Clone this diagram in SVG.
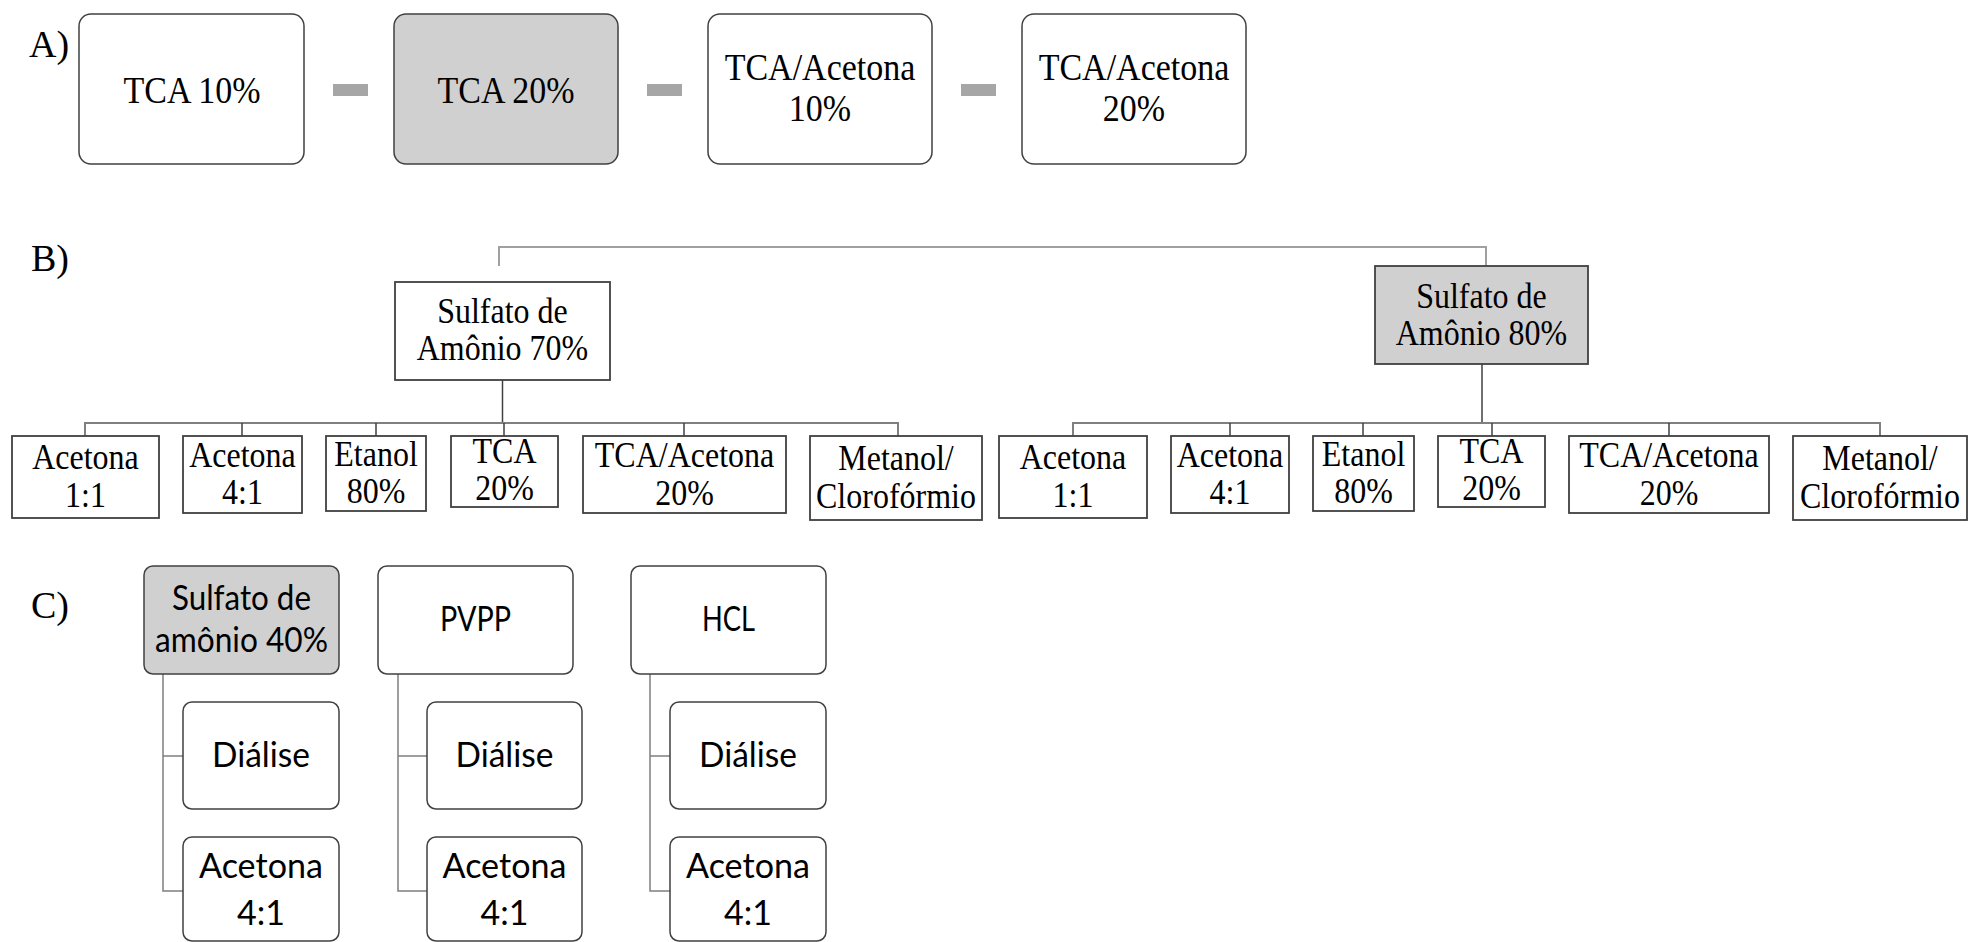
<svg xmlns="http://www.w3.org/2000/svg" width="1969" height="942" viewBox="0 0 1969 942">
<style>
.bg{fill:#ffffff}
.ra{fill:#ffffff;stroke:#404040;stroke-width:1.5}
.rag{fill:#d0d0d0;stroke:#404040;stroke-width:1.5}
.rb{fill:#ffffff;stroke:#404040;stroke-width:1.8}
.rbg{fill:#d0d0d0;stroke:#404040;stroke-width:1.8}
.dash{fill:#a6a6a6}
.lbl{font-family:"Liberation Serif","Times New Roman",serif;font-size:38px;fill:#000}
.ta{font-family:"Liberation Serif","Times New Roman",serif;font-size:34px;fill:#000;text-anchor:middle}
.tb{font-family:"Liberation Serif","Times New Roman",serif;font-size:32px;fill:#000;text-anchor:middle}
.tc{font-family:Lato,"Open Sans",sans-serif;font-size:34px;fill:#000;text-anchor:middle}
.ltop{fill:none;stroke:#a0a0a0;stroke-width:2}
.lbus{fill:none;stroke:#808080;stroke-width:2}
.ldark{fill:none;stroke:#404040;stroke-width:1.5}
.lc{fill:none;stroke:#7f7f7f;stroke-width:1.5}
</style>
<rect class="bg" x="0" y="0" width="1969" height="942"/>

<!-- Labels -->
<text class="lbl" x="29" y="57">A)</text>
<text class="lbl" x="31" y="271">B)</text>
<text class="lbl" x="31" y="618">C)</text>

<!-- Connectors -->
<g id="connectors">
  <rect class="dash" x="333" y="84" width="35" height="12"/>
  <rect class="dash" x="647" y="84" width="35" height="12"/>
  <rect class="dash" x="961" y="84" width="35" height="12"/>
  <path class="ltop" d="M499,266 V247 H1486 V266"/>
  <path class="ldark" d="M502.5,380 V423"/>
  <path class="lbus" d="M85,436 V423 H898 V436"/>
  <path class="ldark" d="M242,423 V436 M376,423 V436 M504,423 V436 M684,423 V436"/>
  <path class="ldark" d="M1482,364 V423"/>
  <path class="lbus" d="M1073,436 V423 H1880 V436"/>
  <path class="ldark" d="M1230,423 V436 M1363,423 V436 M1492,423 V436 M1669,423 V436"/>
  <path class="lc" d="M163,674 V891 H183 M163,756 H183"/>
  <path class="lc" d="M398,674 V891 H427 M398,756 H427"/>
  <path class="lc" d="M650,674 V891 H670 M650,756 H670"/>
</g>

<!-- Section A nodes -->
<g id="a-tca10">
  <rect class="ra" x="79" y="14" width="225" height="150" rx="12"/>
  <text class="ta" transform="translate(192,103) scale(1,1.12)">TCA 10%</text>
</g>
<g id="a-tca20">
  <rect class="rag" x="394" y="14" width="224" height="150" rx="12"/>
  <text class="ta" transform="translate(506,103) scale(1,1.12)">TCA 20%</text>
</g>
<g id="a-tcaac10">
  <rect class="ra" x="708" y="14" width="224" height="150" rx="12"/>
  <text class="ta" transform="translate(820,80) scale(1,1.12)">TCA/Acetona</text>
  <text class="ta" transform="translate(820,121) scale(1,1.12)">10%</text>
</g>
<g id="a-tcaac20">
  <rect class="ra" x="1022" y="14" width="224" height="150" rx="12"/>
  <text class="ta" transform="translate(1134,80) scale(1,1.12)">TCA/Acetona</text>
  <text class="ta" transform="translate(1134,121) scale(1,1.12)">20%</text>
</g>

<!-- Section B left -->
<g id="b-sa70">
  <rect class="rb" x="395" y="282" width="215" height="98"/>
  <text class="tb" transform="translate(502.5,323) scale(1,1.12)">Sulfato de</text>
  <text class="tb" transform="translate(502.5,360) scale(1,1.12)">Amônio 70%</text>
</g>
<g id="b-l-ac11">
  <rect class="rb" x="12" y="436" width="147" height="82"/>
  <text class="tb" transform="translate(85.5,469) scale(1,1.12)">Acetona</text>
  <text class="tb" transform="translate(85.5,507) scale(1,1.12)">1:1</text>
</g>
<g id="b-l-ac41">
  <rect class="rb" x="183" y="436" width="119" height="77"/>
  <text class="tb" transform="translate(242.5,467) scale(1,1.12)">Acetona</text>
  <text class="tb" transform="translate(242.5,504) scale(1,1.12)">4:1</text>
</g>
<g id="b-l-etanol">
  <rect class="rb" x="326" y="436" width="100" height="75"/>
  <text class="tb" transform="translate(376,466) scale(1,1.12)">Etanol</text>
  <text class="tb" transform="translate(376,503) scale(1,1.12)">80%</text>
</g>
<g id="b-l-tca">
  <rect class="rb" x="451" y="436" width="107" height="71"/>
  <text class="tb" transform="translate(504.5,463) scale(1,1.12)">TCA</text>
  <text class="tb" transform="translate(504.5,500) scale(1,1.12)">20%</text>
</g>
<g id="b-l-tcaac">
  <rect class="rb" x="583" y="436" width="203" height="77"/>
  <text class="tb" transform="translate(684.5,467) scale(1,1.12)">TCA/Acetona</text>
  <text class="tb" transform="translate(684.5,505) scale(1,1.12)">20%</text>
</g>
<g id="b-l-metanol">
  <rect class="rb" x="810" y="436" width="172" height="84"/>
  <text class="tb" transform="translate(896,470) scale(1,1.12)">Metanol/</text>
  <text class="tb" transform="translate(896,508) scale(1,1.12)">Clorofórmio</text>
</g>

<!-- Section B right -->
<g id="b-sa80">
  <rect class="rbg" x="1375" y="266" width="213" height="98"/>
  <text class="tb" transform="translate(1481.5,308) scale(1,1.12)">Sulfato de</text>
  <text class="tb" transform="translate(1481.5,345) scale(1,1.12)">Amônio 80%</text>
</g>
<g id="b-r-ac11">
  <rect class="rb" x="999" y="436" width="148" height="82"/>
  <text class="tb" transform="translate(1073,469) scale(1,1.12)">Acetona</text>
  <text class="tb" transform="translate(1073,507) scale(1,1.12)">1:1</text>
</g>
<g id="b-r-ac41">
  <rect class="rb" x="1171" y="436" width="118" height="77"/>
  <text class="tb" transform="translate(1230,467) scale(1,1.12)">Acetona</text>
  <text class="tb" transform="translate(1230,504) scale(1,1.12)">4:1</text>
</g>
<g id="b-r-etanol">
  <rect class="rb" x="1313" y="436" width="101" height="75"/>
  <text class="tb" transform="translate(1363.5,466) scale(1,1.12)">Etanol</text>
  <text class="tb" transform="translate(1363.5,503) scale(1,1.12)">80%</text>
</g>
<g id="b-r-tca">
  <rect class="rb" x="1438" y="436" width="107" height="71"/>
  <text class="tb" transform="translate(1491.5,463) scale(1,1.12)">TCA</text>
  <text class="tb" transform="translate(1491.5,500) scale(1,1.12)">20%</text>
</g>
<g id="b-r-tcaac">
  <rect class="rb" x="1569" y="436" width="200" height="77"/>
  <text class="tb" transform="translate(1669,467) scale(1,1.12)">TCA/Acetona</text>
  <text class="tb" transform="translate(1669,505) scale(1,1.12)">20%</text>
</g>
<g id="b-r-metanol">
  <rect class="rb" x="1793" y="436" width="174" height="84"/>
  <text class="tb" transform="translate(1880,470) scale(1,1.12)">Metanol/</text>
  <text class="tb" transform="translate(1880,508) scale(1,1.12)">Clorofórmio</text>
</g>

<!-- Section C -->
<g id="c-sa40">
  <rect class="rag" x="144" y="566" width="195" height="108" rx="9"/>
  <text class="tc" x="241.5" y="610" textLength="139" lengthAdjust="spacingAndGlyphs">Sulfato de</text>
  <text class="tc" x="241.5" y="652" textLength="173" lengthAdjust="spacingAndGlyphs">amônio 40%</text>
</g>
<g id="c-sa40-dialise">
  <rect class="ra" x="183" y="702" width="156" height="107" rx="9"/>
  <text class="tc" x="261" y="767" textLength="98" lengthAdjust="spacingAndGlyphs">Diálise</text>
</g>
<g id="c-sa40-acetona">
  <rect class="ra" x="183" y="837" width="156" height="104" rx="9"/>
  <text class="tc" x="261" y="878" textLength="124" lengthAdjust="spacingAndGlyphs">Acetona</text>
  <text class="tc" x="261" y="925">4:1</text>
</g>
<g id="c-pvpp">
  <rect class="ra" x="378" y="566" width="195" height="108" rx="9"/>
  <text class="tc" x="475.5" y="631" textLength="71" lengthAdjust="spacingAndGlyphs">PVPP</text>
</g>
<g id="c-pvpp-dialise">
  <rect class="ra" x="427" y="702" width="155" height="107" rx="9"/>
  <text class="tc" x="504.5" y="767" textLength="98" lengthAdjust="spacingAndGlyphs">Diálise</text>
</g>
<g id="c-pvpp-acetona">
  <rect class="ra" x="427" y="837" width="155" height="104" rx="9"/>
  <text class="tc" x="504.5" y="878" textLength="124" lengthAdjust="spacingAndGlyphs">Acetona</text>
  <text class="tc" x="504.5" y="925">4:1</text>
</g>
<g id="c-hcl">
  <rect class="ra" x="631" y="566" width="195" height="108" rx="9"/>
  <text class="tc" x="728.5" y="631" textLength="53" lengthAdjust="spacingAndGlyphs">HCL</text>
</g>
<g id="c-hcl-dialise">
  <rect class="ra" x="670" y="702" width="156" height="107" rx="9"/>
  <text class="tc" x="748" y="767" textLength="98" lengthAdjust="spacingAndGlyphs">Diálise</text>
</g>
<g id="c-hcl-acetona">
  <rect class="ra" x="670" y="837" width="156" height="104" rx="9"/>
  <text class="tc" x="748" y="878" textLength="124" lengthAdjust="spacingAndGlyphs">Acetona</text>
  <text class="tc" x="748" y="925">4:1</text>
</g>
</svg>
